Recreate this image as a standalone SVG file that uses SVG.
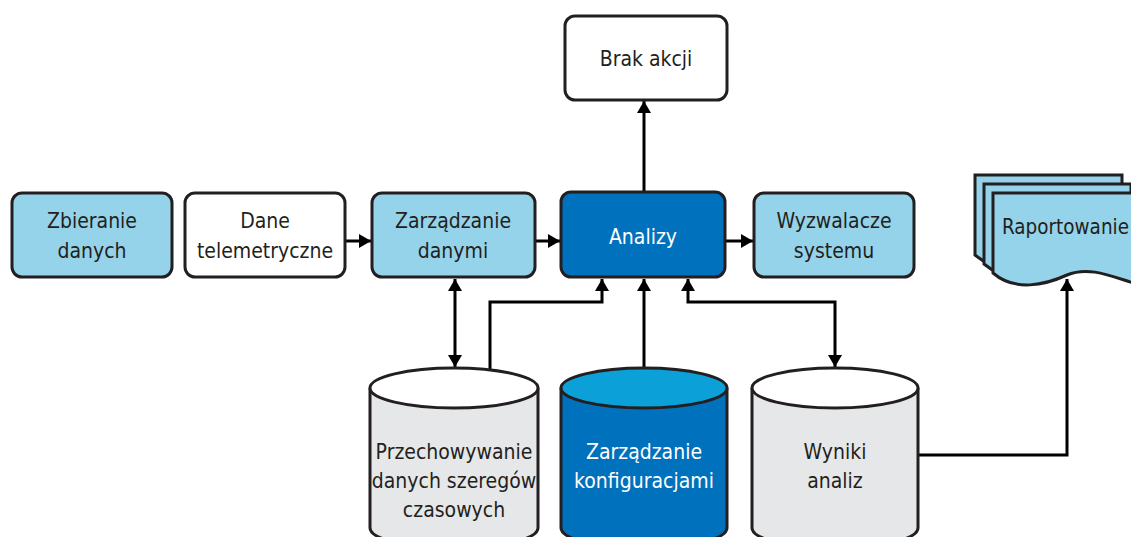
<svg xmlns="http://www.w3.org/2000/svg" width="1131" height="537" viewBox="0 0 1131 537">
<style>
.box{stroke:#231f20;stroke-width:3}
.lb{fill:#94d3ea}
.wh{fill:#ffffff}
.db{fill:#0071bc}
.gr{fill:#e6e7e8}
.t{font-family:"Liberation Sans Narrow","DejaVu Sans Condensed","Liberation Sans",sans-serif;font-stretch:condensed;font-size:21px;fill:#231f20;text-anchor:middle}
.tw{fill:#ffffff}
.c{fill:none;stroke:#000;stroke-width:3}
</style>
<defs>
<marker id="ah" viewBox="0 0 12 14" refX="12" refY="7" markerWidth="12" markerHeight="14" markerUnits="userSpaceOnUse" orient="auto-start-reverse">
<path d="M0,0 L12,7 L0,14 z" fill="#000"/>
</marker>
<path id="doc" d="M0,0 H147 V92 C122,85 97,72 74,82 C52,92 22,99 0,80 Z"/>
</defs>
<g id="connectors">
<line class="c" x1="346" y1="241" x2="371" y2="241" marker-end="url(#ah)"/>
<line class="c" x1="536" y1="241" x2="560" y2="241" marker-end="url(#ah)"/>
<line class="c" x1="726" y1="241" x2="753" y2="241" marker-end="url(#ah)"/>
<line class="c" x1="644" y1="191" x2="644" y2="101" marker-end="url(#ah)"/>
<line class="c" x1="455" y1="279" x2="455" y2="367" marker-start="url(#ah)" marker-end="url(#ah)"/>
<polyline class="c" points="490,371 490,302 602,302 602,279" marker-end="url(#ah)"/>
<line class="c" x1="644" y1="368" x2="644" y2="279" marker-end="url(#ah)"/>
<polyline class="c" points="688,279 688,302 835,302 835,367" marker-start="url(#ah)" marker-end="url(#ah)"/>
<polyline class="c" points="919,455 1067,455 1067,279" marker-end="url(#ah)"/>
</g>
<g id="zbieranie">
<rect class="box lb" x="12" y="193" width="160" height="84" rx="10"/>
<text class="t" x="92" y="228">Zbieranie</text>
<text class="t" x="92" y="258">danych</text>
</g>
<g id="dane">
<rect class="box wh" x="185" y="193" width="160" height="84" rx="10"/>
<text class="t" x="265" y="228">Dane</text>
<text class="t" x="265" y="258">telemetryczne</text>
</g>
<g id="zarzadzanie-danymi">
<rect class="box lb" x="372" y="193" width="163" height="84" rx="10"/>
<text class="t" x="453" y="228">Zarządzanie</text>
<text class="t" x="453" y="258">danymi</text>
</g>
<g id="analizy">
<rect class="box db" x="561" y="192" width="164" height="85" rx="10"/>
<text class="t tw" x="643" y="244">Analizy</text>
</g>
<g id="wyzwalacze">
<rect class="box lb" x="754" y="193" width="160" height="84" rx="10"/>
<text class="t" x="834" y="228">Wyzwalacze</text>
<text class="t" x="834" y="258">systemu</text>
</g>
<g id="brak-akcji">
<rect class="box wh" x="565" y="16" width="162" height="84" rx="10"/>
<text class="t" x="646" y="66">Brak akcji</text>
</g>
<g id="raportowanie">
<use href="#doc" class="box lb" x="975" y="175"/>
<use href="#doc" class="box lb" x="984" y="184"/>
<use href="#doc" class="box lb" x="993" y="193"/>
<text class="t" x="1002" y="234" style="text-anchor:start" textLength="127" lengthAdjust="spacingAndGlyphs">Raportowanie</text>
</g>
<g id="przechowywanie">
<path class="box gr" d="M370,388 V528 A84,20 0 0 0 538,528 V388"/>
<ellipse class="box wh" cx="454" cy="388" rx="84" ry="20"/>
<text class="t" x="454" y="459">Przechowywanie</text>
<text class="t" x="454" y="488">danych szeregów</text>
<text class="t" x="454" y="517">czasowych</text>
</g>
<g id="konfiguracja">
<path class="box db" d="M561,388 V528 A83,20 0 0 0 727,528 V388"/>
<ellipse class="box" cx="644" cy="388" rx="83" ry="20" fill="#0ba0d7"/>
<text class="t tw" x="644" y="459">Zarządzanie</text>
<text class="t tw" x="644" y="488">konfiguracjami</text>
</g>
<g id="wyniki">
<path class="box gr" d="M752,388 V528 A83,20 0 0 0 918,528 V388"/>
<ellipse class="box wh" cx="835" cy="388" rx="83" ry="20"/>
<text class="t" x="835" y="459">Wyniki</text>
<text class="t" x="835" y="488">analiz</text>
</g>
</svg>
